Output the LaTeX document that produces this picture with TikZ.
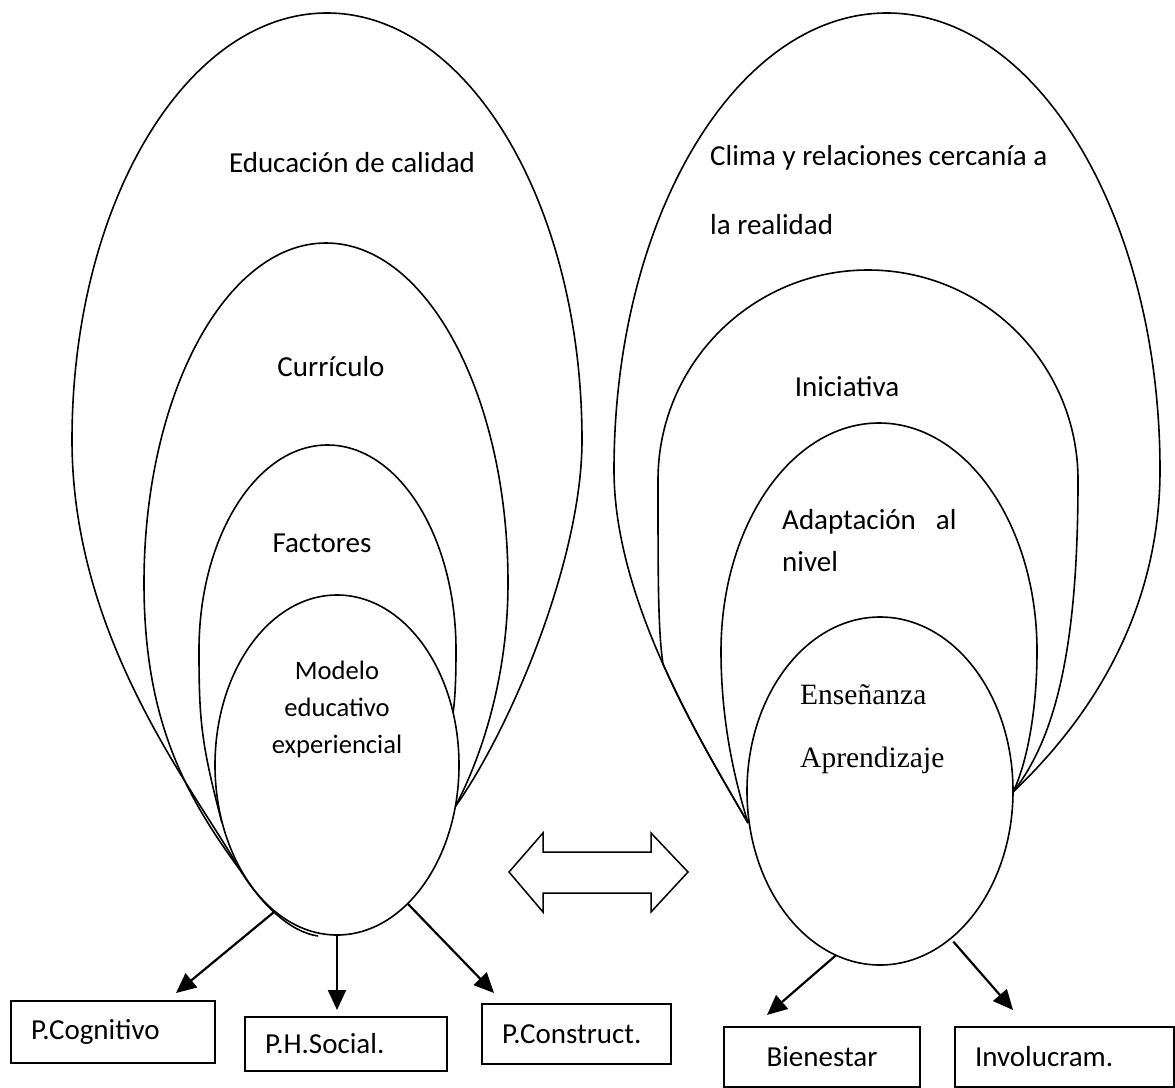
\documentclass[tikz,border=0pt]{standalone}
\usepackage{fontspec}
\setmainfont{Carlito}
\newfontfamily\timesf{Liberation Serif}
\usetikzlibrary{shapes.geometric,arrows.meta,calc}
\begin{document}
\begin{tikzpicture}[x=1pt,y=-1pt,
  ovl/.style={line width=1.6pt},
  ell/.style={ellipse,draw,line width=1.6pt,fill=white,inner sep=0pt,outer sep=0pt},
  lbl/.style={inner sep=0pt,font=\fontsize{29}{35}\selectfont},
  box/.style={draw,line width=2pt,anchor=north west,inner xsep=20pt,inner ysep=0pt,align=left,font=\fontsize{29}{35}\selectfont},
  arr/.style={line width=2.2pt,-{Triangle[length=20pt,width=18pt]}}]
\useasboundingbox (0,0) rectangle (1175,1087);

% ---------- left group ----------
% A
\draw[ovl] (318,936) .. controls (290,932) and (262,905) .. (240,870)
  .. controls (195,790) and (72,640) .. (72,440)
  .. controls (72,204.2) and (186.2,13) .. (327,13)
  .. controls (467.8,13) and (582,204.2) .. (582,440)
  .. controls (582,560) and (510,730) .. (455,807);
% B
\draw[ovl] (240,870) .. controls (185,795) and (144,720) .. (144,583)
  .. controls (144,395.2) and (225.5,243) .. (326,243)
  .. controls (426.5,243) and (508,395.2) .. (508,583)
  .. controls (508,680) and (480,760) .. (455,807);
% C
\draw[ovl] (222,823) .. controls (201,743) and (199,720) .. (199,650)
  .. controls (199,536.8) and (256.5,445) .. (327.5,445)
  .. controls (398.5,445) and (456,536.8) .. (456,650)
  .. controls (456,680) and (455,700) .. (453,713);
% D
\node[ell,minimum width=244pt,minimum height=340pt] (D) at (337,765) {};

% ---------- right group ----------
% E
\draw[ovl] (748,823) .. controls (700,740) and (614,600) .. (614,470)
  .. controls (614,217.6) and (736.2,13) .. (887,13)
  .. controls (1037.8,13) and (1160,217.6) .. (1160,470)
  .. controls (1160,590) and (1110,700) .. (1013,792);
% F
\draw[ovl] (748,823) .. controls (724,781.5) and (690.5,725.75) .. (663,664)
  .. controls (658,630) and (658,580) .. (658,480)
  .. controls (658,364) and (752,270) .. (868,270)
  .. controls (984,270) and (1078,364) .. (1078,480)
  .. controls (1078,640) and (1058,735) .. (1013,792);
% G
\draw[ovl] (748,823) .. controls (738,790) and (721,730) .. (721,651)
  .. controls (721,525.1) and (791.7,423) .. (879,423)
  .. controls (966.3,423) and (1037,525.1) .. (1037,651)
  .. controls (1037,720) and (1024,770) .. (1013,792);
% H
\node[ell,minimum width=266pt,minimum height=348pt] (H) at (880,791) {};

% ---------- labels ----------
\node[lbl] (tEdu) at (352,163) {Educación de calidad};
\node[lbl] (tCur) at (331,367) {Currículo};
\node[lbl] (tFac) at (322,543) {Factores};
\node[inner sep=0pt,align=center,font=\fontsize{26.6}{37}\selectfont] (tMod) at (337,709) {Modelo\\educativo\\experiencial};

\node[lbl,anchor=west] (tCli) at (710,158) {Clima y relaciones cercanía a};
\node[lbl,anchor=west] (tRea) at (710,225) {la realidad};
\node[lbl] (tIni) at (847,387) {Iniciativa};
\node[lbl,anchor=west] (tAda) at (782,522) {Adaptación\hspace{20pt}al};
\node[lbl,anchor=west] (tNiv) at (782,562) {nivel};
\node[inner sep=0pt,anchor=west,font=\timesf\fontsize{29.5}{35}\selectfont] (tEns) at (800,695) {Enseñanza};
\node[inner sep=0pt,anchor=west,font=\timesf\fontsize{29.5}{35}\selectfont] (tApr) at (800,760) {Aprendizaje};

% ---------- double arrow ----------
\draw[line width=1.5pt] (509,872) -- (543,833) -- (543,852) -- (651,852) -- (651,833)
  -- (688,872) -- (651,912) -- (651,893) -- (543,893) -- (543,912) -- cycle;

% ---------- boxes ----------
\node[box,minimum width=204pt,minimum height=62pt,text width=164pt] (pcog) at (10,1000) {P.Cognitivo};
\node[box,minimum width=202pt,minimum height=54pt,text width=162pt] (phs) at (244,1016) {P.H.Social.};
\node[box,minimum width=189pt,minimum height=60pt,text width=149pt] (pcon) at (481,1003) {P.Construct.};
\node[box,minimum width=196pt,minimum height=60pt,text width=156pt,align=center] (bien) at (723,1026) {Bienestar};
\node[box,minimum width=219pt,minimum height=60pt,text width=179pt] (invo) at (954,1026) {Involucram.};

% ---------- arrows ----------
\coordinate (tip1) at (176,993);
\coordinate (tip2) at (337,1010);
\coordinate (tip3) at (494,993);
\coordinate (tip4) at (767,1015);
\coordinate (tip5) at (1013,1010);
\draw[arr] (D.247.6) -- (tip1);
\draw[arr] (D.270) -- (tip2);
\draw[arr] (D.297.5) -- (tip3);
\draw[arr] (H.255.2) -- (tip4);
\draw[arr] ($(H.295.4)+(4,2)$) -- (tip5);
\end{tikzpicture}
\end{document}
